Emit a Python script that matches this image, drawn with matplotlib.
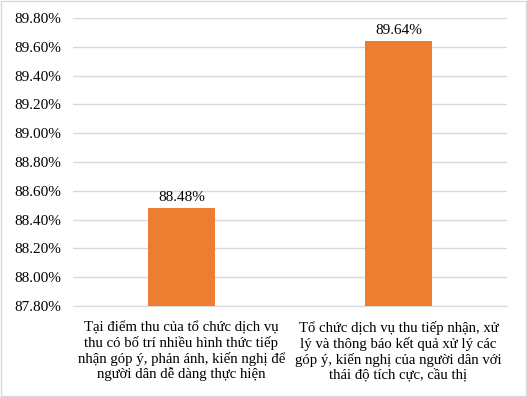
import matplotlib.pyplot as plt
from matplotlib.ticker import FuncFormatter

# Du lieu
nhan = [
    "Tại điểm thu của tổ chức dịch vụ\nthu có bố trí nhiều hình thức tiếp\nnhận góp ý, phản ánh, kiến nghị để\nngười dân dễ dàng thực hiện",
    "Tổ chức dịch vụ thu tiếp nhận, xử\nlý và thông báo kết quả xử lý các\ngóp ý, kiến nghị của người dân với\nthái độ tích cực, cầu thị",
]
gia_tri = [88.48, 89.64]
y_ticks = [87.8, 88.0, 88.2, 88.4, 88.6, 88.8, 89.0, 89.2, 89.4, 89.6, 89.8]

plt.rcParams['font.family'] = ['Liberation Serif', 'DejaVu Serif']

fig = plt.figure(figsize=(5.27, 3.97), dpi=100)
ax = fig.add_axes([0.1385, 0.229, 0.8235, 0.7257])

x = range(len(gia_tri))
ax.bar(x, gia_tri, width=0.31, color='#ED7D31', zorder=3)
for i, v in zip(x, gia_tri):
    ax.text(i, v + 0.03, f"{v:.2f}%", ha='center', va='bottom', fontsize=11)

ax.set_ylim(87.8, 89.8)
ax.set_xlim(-0.5, 1.5)
ax.set_yticks(y_ticks)
ax.yaxis.set_major_formatter(FuncFormatter(lambda v, p: f"{v:.2f}%"))
ax.grid(axis='y', color='#D9D9D9', linewidth=1, zorder=0)
ax.set_xticks(list(x))
ax.set_xticklabels(nhan, linespacing=1.15)
ax.tick_params(axis='both', length=0, labelsize=11)
ax.tick_params(axis='x', labelsize=10.6, pad=11)
ax.tick_params(axis='y', pad=8.5)
for s in ['top', 'right', 'left']:
    ax.spines[s].set_visible(False)
ax.spines['bottom'].set_color('#D9D9D9')

# vien quanh hinh
fig.patches.append(plt.Rectangle((0.002, 0.002), 0.996, 0.996, transform=fig.transFigure,
                                 fill=False, edgecolor='#D9D9D9', linewidth=1))

plt.savefig("out.png", dpi=100)
